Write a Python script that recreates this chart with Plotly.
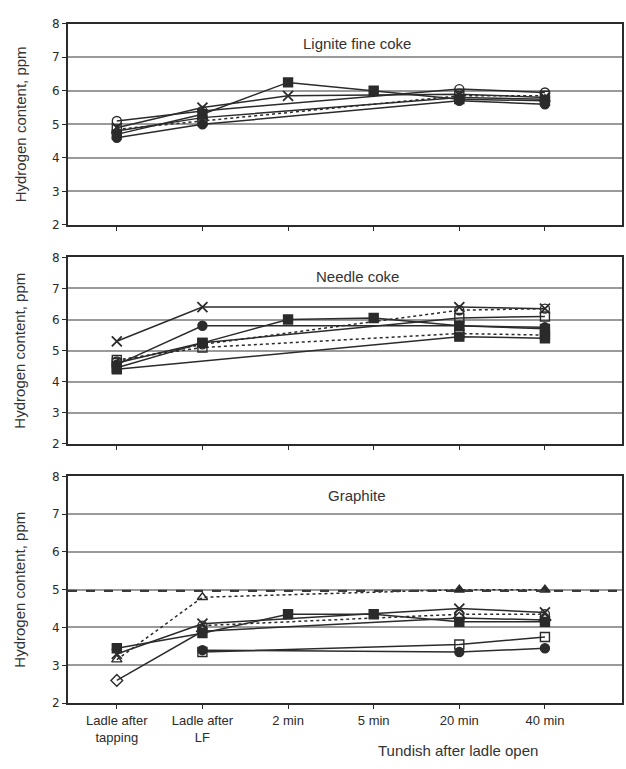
import plotly.graph_objects as go

# ---------------- data ----------------
stages = ["Ladle after<br>tapping", "Ladle after<br>LF", "2 min", "5 min", "20 min", "40 min"]
panel_titles = ["Lignite fine coke", "Needle coke", "Graphite"]
y_ticks = [2, 3, 4, 5, 6, 7, 8]

# Lignite fine coke
lig_fsq = [4.70, 5.30, 6.25, 6.00, 5.75, 5.70]
lig_x = [4.90, 5.50, 5.85, None, 5.90, 5.80]
lig_ocirc = [5.10, 5.40, None, None, 6.05, 5.95]
lig_osq_dot = [4.85, 5.10, None, None, 5.85, 5.85]
lig_fcirc = [4.60, 5.00, None, None, 5.70, 5.60]
lig_otri = [4.80, 5.20, None, None, 5.80, 5.75]

# Needle coke
ndl_x = [5.30, 6.40, None, None, 6.40, 6.35]
ndl_fcirc = [4.55, 5.80, None, None, 5.80, 5.75]
ndl_fsq = [4.45, 5.25, 6.00, 6.05, 5.80, 5.70]
ndl_osq_dot = [4.70, 5.10, None, None, 5.55, 5.50]
ndl_fsq_low = [4.40, None, None, None, 5.45, 5.40]
ndl_ocirc_dot = [4.65, 5.20, None, None, 6.30, 6.35]
ndl_osq = [4.60, 5.25, None, None, 6.05, 6.10]

# Graphite
gra_fsq = [3.45, 3.85, 4.35, 4.35, 4.15, 4.15]
gra_tri_dot = [3.15, 4.80, None, None, 5.00, 5.00]
gra_x = [3.30, 4.10, None, None, 4.50, 4.40]
gra_odia = [2.60, 3.90, None, None, 4.25, 4.20]
gra_osq = [None, 3.35, None, None, 3.55, 3.75]
gra_fcirc = [None, 3.40, None, None, 3.35, 3.45]
gra_ocirc_dot = [None, 4.05, None, None, 4.35, 4.35]
gra_reference = 4.97

# ---------------- styling helpers ----------------
INK = "#2b2b2b"
GRID = "#9a9a9a"

SYMBOLS = {"fsq": "square", "osq": "square-open", "fcirc": "circle", "ocirc": "circle-open",
           "x": "x-thin-open", "otri": "triangle-up-open", "ftri": "triangle-up",
           "odia": "diamond-open"}

def marker_style(kind):
    if isinstance(kind, list):
        sym = [SYMBOLS[k] for k in kind]
        return dict(size=9, symbol=sym, color=INK, line=dict(color=INK, width=1.4))
    m = dict(size=9, symbol=SYMBOLS[kind], color=INK, line=dict(color=INK, width=1.4))
    if kind == "x":
        m.update(size=10, line=dict(color=INK, width=1.8))
    return m

panels = [
    [(lig_fsq, "fsq", "solid"), (lig_x, "x", "solid"), (lig_ocirc, "ocirc", "solid"),
     (lig_osq_dot, "osq", "dot"), (lig_fcirc, "fcirc", "solid"), (lig_otri, "otri", "solid")],
    [(ndl_x, "x", "solid"), (ndl_fcirc, "fcirc", "solid"), (ndl_fsq, "fsq", "solid"),
     (ndl_osq_dot, "osq", "dot"), (ndl_fsq_low, "fsq", "solid"), (ndl_ocirc_dot, "ocirc", "dot"),
     (ndl_osq, "osq", "solid")],
    [(gra_fsq, "fsq", "solid"),
     (gra_tri_dot, ["otri", "otri", "otri", "otri", "ftri", "ftri"], "dot"),
     (gra_x, "x", "solid"), (gra_odia, "odia", "solid"), (gra_osq, "osq", "solid"),
     (gra_fcirc, "fcirc", "solid"), (gra_ocirc_dot, "ocirc", "dot")],
]

W, H = 626, 769
x_dom = [68 / W, 622 / W]
y_doms = [[1 - 222 / H, 1 - 17 / H], [1 - 445 / H, 1 - 255 / H], [1 - 709 / H, 1 - 478 / H]]

fig = go.Figure()

for i, series in enumerate(panels):
    xa = "x" if i == 0 else f"x{i+1}"
    ya = "y" if i == 0 else f"y{i+1}"
    for vals, kind, dash in series:
        fig.add_trace(go.Scatter(
            x=stages, y=vals, xaxis=xa, yaxis=ya, mode="lines+markers",
            connectgaps=True,
            line=dict(color=INK, width=1.5, dash=dash),
            marker=marker_style(kind), showlegend=False))

# reference dashed line across the graphite panel
fig.add_shape(type="line", xref="x3 domain", yref="y3", x0=0, x1=1,
              y0=gra_reference, y1=gra_reference,
              line=dict(color="#3a3a3a", width=2.2, dash="dash"), layer="above")

layout = dict(
    width=W, height=H, margin=dict(l=0, r=0, t=0, b=0),
    paper_bgcolor="white", plot_bgcolor="white",
    font=dict(family="Liberation Sans, Arial, sans-serif", color=INK),
)

for i in range(3):
    xk = "xaxis" if i == 0 else f"xaxis{i+1}"
    yk = "yaxis" if i == 0 else f"yaxis{i+1}"
    ya = "y" if i == 0 else f"y{i+1}"
    xa = "x" if i == 0 else f"x{i+1}"
    layout[xk] = dict(
        domain=x_dom, anchor=ya, type="category", categoryorder="array", categoryarray=stages,
        range=[-0.57, 5.9], showgrid=False, showline=True, linecolor=INK, linewidth=2,
        mirror=True, ticks="outside", ticklen=4, tickcolor=INK,
        showticklabels=(i == 2), tickfont=dict(size=13, color=INK),
    )
    layout[yk] = dict(
        domain=y_doms[i], anchor=xa, range=[2, 8], tickvals=y_ticks,
        showgrid=True, gridcolor=GRID, gridwidth=1.5, showline=True, linecolor=INK,
        linewidth=2, mirror=True, ticks="outside", ticklen=4, tickcolor=INK,
        tickfont=dict(size=12, color=INK, family="DejaVu Sans, sans-serif"), zeroline=False,
    )

fig.update_layout(**layout)

annotations = []
title_y = [37, 275, 498]
for i in range(3):
    annotations.append(dict(
        text=panel_titles[i], xref="paper", yref="paper",
        x=357 / W, y=1 - title_y[i] / H, showarrow=False,
        font=dict(size=15, color="#333"), xanchor="center", yanchor="middle"))
    mid = (y_doms[i][0] + y_doms[i][1]) / 2
    annotations.append(dict(
        text="Hydrogen content, ppm", xref="paper", yref="paper",
        x=20 / W, y=mid, showarrow=False, textangle=-90,
        font=dict(size=15, color="#333"), xanchor="center", yanchor="middle"))
annotations.append(dict(
    text="Tundish after ladle open", xref="paper", yref="paper",
    x=458 / W, y=1 - 757 / H, showarrow=False,
    font=dict(size=15, color="#333"), xanchor="center", yanchor="middle"))
fig.update_layout(annotations=annotations)

fig.write_html("out.html")
